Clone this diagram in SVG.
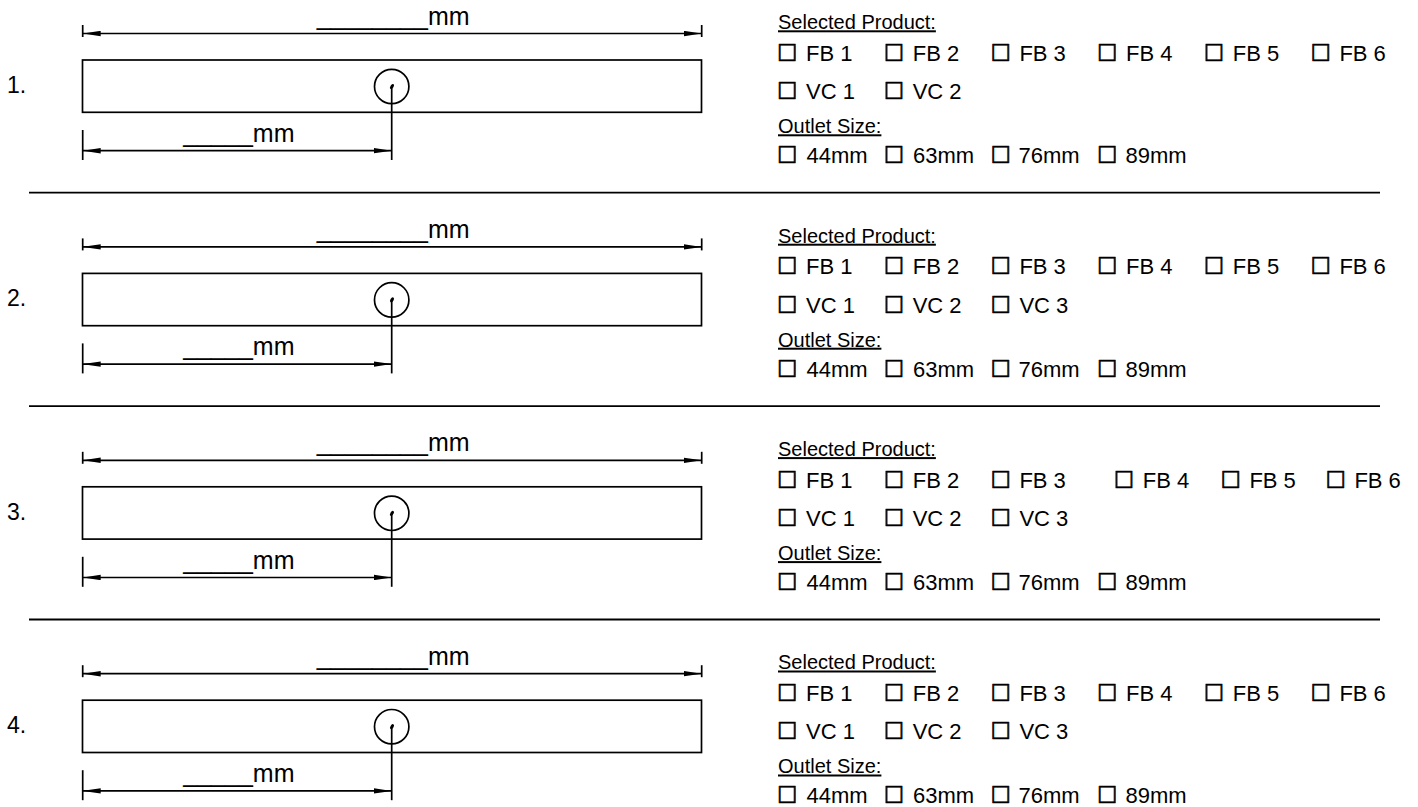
<svg xmlns="http://www.w3.org/2000/svg" width="1418" height="807" viewBox="0 0 1418 807">
<style>
text{font-family:"Liberation Sans",Arial,sans-serif;fill:#000}
.num{font-size:23px}
.dim{font-size:25px}
.hd{font-size:20px;text-decoration:underline}
.it{font-size:22px}
.bx{font-family:"DejaVu Sans",sans-serif;font-size:23px;stroke:#000;stroke-width:0.6}
.ln{stroke:#000;stroke-width:1.7;fill:none}
.sep{stroke:#000;stroke-width:1.8}
</style>
<defs>
<marker id="arr" viewBox="0 0 18 6" refX="18" refY="3" markerWidth="18" markerHeight="6" orient="auto-start-reverse" markerUnits="userSpaceOnUse"><path d="M0,0.3 L18,3 L0,5.7 z" fill="#000"/></marker>
</defs>
<g id="separators">
<line x1="29" y1="192.7" x2="1380" y2="192.7" class="sep"/>
<line x1="29" y1="406.1" x2="1380" y2="406.1" class="sep"/>
<line x1="29" y1="619.5" x2="1380" y2="619.5" class="sep"/>
</g>

<g id="row1">
<text class="num" x="7" y="93">1.</text>
<g id="bar1"><rect x="82.5" y="60" width="619" height="52.3" class="ln"/><circle cx="391.7" cy="86.5" r="17.2" class="ln"/><ellipse cx="392" cy="86.5" rx="2.8" ry="1.6" transform="rotate(-60 392 86.5)" fill="#000"/></g>
<g id="connectors1">
<line x1="82.7" y1="25" x2="82.7" y2="37" class="ln"/><line x1="701.7" y1="25" x2="701.7" y2="37" class="ln"/>
<line x1="82.7" y1="33.5" x2="701.7" y2="33.5" class="ln" marker-start="url(#arr)" marker-end="url(#arr)"/>
<line x1="82.7" y1="130" x2="82.7" y2="160" class="ln"/><line x1="391.7" y1="87" x2="391.7" y2="160" class="ln"/>
<line x1="82.7" y1="150.7" x2="391.7" y2="150.7" class="ln" marker-start="url(#arr)" marker-end="url(#arr)"/>
</g>
<text class="dim" x="316.7" y="24.5">________mm</text>
<text class="dim" x="183.3" y="142">_____mm</text>
<g id="form1">
<text class="hd" x="778" y="29.3">Selected Product:</text>
<text class="it" x="777" y="61"><tspan class="bx">☐</tspan><tspan x="806">FB 1</tspan></text>
<text class="it" x="883.7" y="61"><tspan class="bx">☐</tspan><tspan x="912.7">FB 2</tspan></text>
<text class="it" x="990.4" y="61"><tspan class="bx">☐</tspan><tspan x="1019.4">FB 3</tspan></text>
<text class="it" x="1097" y="61"><tspan class="bx">☐</tspan><tspan x="1126">FB 4</tspan></text>
<text class="it" x="1203.7" y="61"><tspan class="bx">☐</tspan><tspan x="1232.7">FB 5</tspan></text>
<text class="it" x="1310.4" y="61"><tspan class="bx">☐</tspan><tspan x="1339.4">FB 6</tspan></text>
<text class="it" x="777" y="99.3"><tspan class="bx">☐</tspan><tspan x="806">VC 1</tspan></text>
<text class="it" x="883.7" y="99.3"><tspan class="bx">☐</tspan><tspan x="912.7">VC 2</tspan></text>
<text class="hd" x="778" y="133.3">Outlet Size:</text>
<text class="it" x="777" y="163.3"><tspan class="bx">☐</tspan><tspan x="806.5">44mm</tspan></text>
<text class="it" x="883.7" y="163.3"><tspan class="bx">☐</tspan><tspan x="913">63mm</tspan></text>
<text class="it" x="990.4" y="163.3"><tspan class="bx">☐</tspan><tspan x="1018.5">76mm</tspan></text>
<text class="it" x="1097" y="163.3"><tspan class="bx">☐</tspan><tspan x="1125.5">89mm</tspan></text>
</g>
</g>

<g id="row2" transform="translate(0,213.4)">
<text class="num" x="7" y="93">2.</text>
<g id="bar2"><rect x="82.5" y="60" width="619" height="52.3" class="ln"/><circle cx="391.7" cy="86.5" r="17.2" class="ln"/><ellipse cx="392" cy="86.5" rx="2.8" ry="1.6" transform="rotate(-60 392 86.5)" fill="#000"/></g>
<g id="connectors2">
<line x1="82.7" y1="25" x2="82.7" y2="37" class="ln"/><line x1="701.7" y1="25" x2="701.7" y2="37" class="ln"/>
<line x1="82.7" y1="33.5" x2="701.7" y2="33.5" class="ln" marker-start="url(#arr)" marker-end="url(#arr)"/>
<line x1="82.7" y1="130" x2="82.7" y2="160" class="ln"/><line x1="391.7" y1="87" x2="391.7" y2="160" class="ln"/>
<line x1="82.7" y1="150.7" x2="391.7" y2="150.7" class="ln" marker-start="url(#arr)" marker-end="url(#arr)"/>
</g>
<text class="dim" x="316.7" y="24.5">________mm</text>
<text class="dim" x="183.3" y="142">_____mm</text>
<g id="form2">
<text class="hd" x="778" y="29.3">Selected Product:</text>
<text class="it" x="777" y="61"><tspan class="bx">☐</tspan><tspan x="806">FB 1</tspan></text>
<text class="it" x="883.7" y="61"><tspan class="bx">☐</tspan><tspan x="912.7">FB 2</tspan></text>
<text class="it" x="990.4" y="61"><tspan class="bx">☐</tspan><tspan x="1019.4">FB 3</tspan></text>
<text class="it" x="1097" y="61"><tspan class="bx">☐</tspan><tspan x="1126">FB 4</tspan></text>
<text class="it" x="1203.7" y="61"><tspan class="bx">☐</tspan><tspan x="1232.7">FB 5</tspan></text>
<text class="it" x="1310.4" y="61"><tspan class="bx">☐</tspan><tspan x="1339.4">FB 6</tspan></text>
<text class="it" x="777" y="99.3"><tspan class="bx">☐</tspan><tspan x="806">VC 1</tspan></text>
<text class="it" x="883.7" y="99.3"><tspan class="bx">☐</tspan><tspan x="912.7">VC 2</tspan></text>
<text class="it" x="990.4" y="99.3"><tspan class="bx">☐</tspan><tspan x="1019.4">VC 3</tspan></text>
<text class="hd" x="778" y="133.3">Outlet Size:</text>
<text class="it" x="777" y="163.3"><tspan class="bx">☐</tspan><tspan x="806.5">44mm</tspan></text>
<text class="it" x="883.7" y="163.3"><tspan class="bx">☐</tspan><tspan x="913">63mm</tspan></text>
<text class="it" x="990.4" y="163.3"><tspan class="bx">☐</tspan><tspan x="1018.5">76mm</tspan></text>
<text class="it" x="1097" y="163.3"><tspan class="bx">☐</tspan><tspan x="1125.5">89mm</tspan></text>
</g>
</g>

<g id="row3" transform="translate(0,426.8)">
<text class="num" x="7" y="93">3.</text>
<g id="bar3"><rect x="82.5" y="60" width="619" height="52.3" class="ln"/><circle cx="391.7" cy="86.5" r="17.2" class="ln"/><ellipse cx="392" cy="86.5" rx="2.8" ry="1.6" transform="rotate(-60 392 86.5)" fill="#000"/></g>
<g id="connectors3">
<line x1="82.7" y1="25" x2="82.7" y2="37" class="ln"/><line x1="701.7" y1="25" x2="701.7" y2="37" class="ln"/>
<line x1="82.7" y1="33.5" x2="701.7" y2="33.5" class="ln" marker-start="url(#arr)" marker-end="url(#arr)"/>
<line x1="82.7" y1="130" x2="82.7" y2="160" class="ln"/><line x1="391.7" y1="87" x2="391.7" y2="160" class="ln"/>
<line x1="82.7" y1="150.7" x2="391.7" y2="150.7" class="ln" marker-start="url(#arr)" marker-end="url(#arr)"/>
</g>
<text class="dim" x="316.7" y="24.5">________mm</text>
<text class="dim" x="183.3" y="142">_____mm</text>
<g id="form3">
<text class="hd" x="778" y="29.3">Selected Product:</text>
<text class="it" x="777" y="61"><tspan class="bx">☐</tspan><tspan x="806">FB 1</tspan></text>
<text class="it" x="883.7" y="61"><tspan class="bx">☐</tspan><tspan x="912.7">FB 2</tspan></text>
<text class="it" x="990.4" y="61"><tspan class="bx">☐</tspan><tspan x="1019.4">FB 3</tspan></text>
<text class="it" x="1113.7" y="61"><tspan class="bx">☐</tspan><tspan x="1142.7">FB 4</tspan></text>
<text class="it" x="1220.4" y="61"><tspan class="bx">☐</tspan><tspan x="1249.4">FB 5</tspan></text>
<text class="it" x="1325.4" y="61"><tspan class="bx">☐</tspan><tspan x="1354.4">FB 6</tspan></text>
<text class="it" x="777" y="99.3"><tspan class="bx">☐</tspan><tspan x="806">VC 1</tspan></text>
<text class="it" x="883.7" y="99.3"><tspan class="bx">☐</tspan><tspan x="912.7">VC 2</tspan></text>
<text class="it" x="990.4" y="99.3"><tspan class="bx">☐</tspan><tspan x="1019.4">VC 3</tspan></text>
<text class="hd" x="778" y="133.3">Outlet Size:</text>
<text class="it" x="777" y="163.3"><tspan class="bx">☐</tspan><tspan x="806.5">44mm</tspan></text>
<text class="it" x="883.7" y="163.3"><tspan class="bx">☐</tspan><tspan x="913">63mm</tspan></text>
<text class="it" x="990.4" y="163.3"><tspan class="bx">☐</tspan><tspan x="1018.5">76mm</tspan></text>
<text class="it" x="1097" y="163.3"><tspan class="bx">☐</tspan><tspan x="1125.5">89mm</tspan></text>
</g>
</g>

<g id="row4" transform="translate(0,640.2)">
<text class="num" x="7" y="93">4.</text>
<g id="bar4"><rect x="82.5" y="60" width="619" height="52.3" class="ln"/><circle cx="391.7" cy="86.5" r="17.2" class="ln"/><ellipse cx="392" cy="86.5" rx="2.8" ry="1.6" transform="rotate(-60 392 86.5)" fill="#000"/></g>
<g id="connectors4">
<line x1="82.7" y1="25" x2="82.7" y2="37" class="ln"/><line x1="701.7" y1="25" x2="701.7" y2="37" class="ln"/>
<line x1="82.7" y1="33.5" x2="701.7" y2="33.5" class="ln" marker-start="url(#arr)" marker-end="url(#arr)"/>
<line x1="82.7" y1="130" x2="82.7" y2="160" class="ln"/><line x1="391.7" y1="87" x2="391.7" y2="160" class="ln"/>
<line x1="82.7" y1="150.7" x2="391.7" y2="150.7" class="ln" marker-start="url(#arr)" marker-end="url(#arr)"/>
</g>
<text class="dim" x="316.7" y="24.5">________mm</text>
<text class="dim" x="183.3" y="142">_____mm</text>
<g id="form4">
<text class="hd" x="778" y="29.3">Selected Product:</text>
<text class="it" x="777" y="61"><tspan class="bx">☐</tspan><tspan x="806">FB 1</tspan></text>
<text class="it" x="883.7" y="61"><tspan class="bx">☐</tspan><tspan x="912.7">FB 2</tspan></text>
<text class="it" x="990.4" y="61"><tspan class="bx">☐</tspan><tspan x="1019.4">FB 3</tspan></text>
<text class="it" x="1097" y="61"><tspan class="bx">☐</tspan><tspan x="1126">FB 4</tspan></text>
<text class="it" x="1203.7" y="61"><tspan class="bx">☐</tspan><tspan x="1232.7">FB 5</tspan></text>
<text class="it" x="1310.4" y="61"><tspan class="bx">☐</tspan><tspan x="1339.4">FB 6</tspan></text>
<text class="it" x="777" y="99.3"><tspan class="bx">☐</tspan><tspan x="806">VC 1</tspan></text>
<text class="it" x="883.7" y="99.3"><tspan class="bx">☐</tspan><tspan x="912.7">VC 2</tspan></text>
<text class="it" x="990.4" y="99.3"><tspan class="bx">☐</tspan><tspan x="1019.4">VC 3</tspan></text>
<text class="hd" x="778" y="133.3">Outlet Size:</text>
<text class="it" x="777" y="163.3"><tspan class="bx">☐</tspan><tspan x="806.5">44mm</tspan></text>
<text class="it" x="883.7" y="163.3"><tspan class="bx">☐</tspan><tspan x="913">63mm</tspan></text>
<text class="it" x="990.4" y="163.3"><tspan class="bx">☐</tspan><tspan x="1018.5">76mm</tspan></text>
<text class="it" x="1097" y="163.3"><tspan class="bx">☐</tspan><tspan x="1125.5">89mm</tspan></text>
</g>
</g>
</svg>
